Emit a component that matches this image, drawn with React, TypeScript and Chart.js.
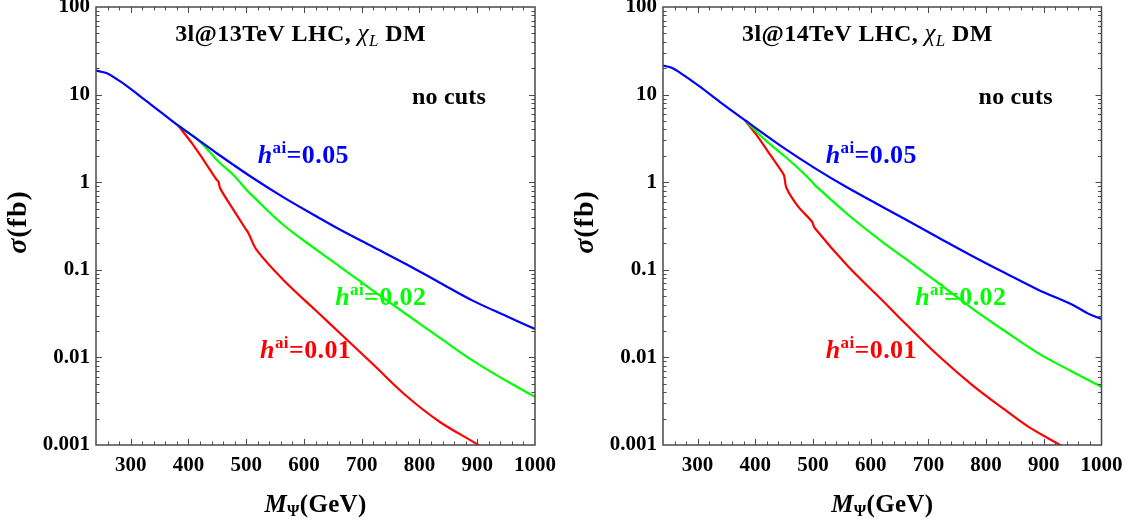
import React, { useEffect, useRef } from "react";
import { Chart, registerables } from "chart.js";

Chart.register(...registerables);

const FONT = '"Liberation Serif", "Times New Roman", serif';

// ---------------- axes ----------------
const xRange = [240, 1000];
const yRange = [0.001, 100];
const xTickValues = [300, 400, 500, 600, 700, 800, 900, 1000];
const xTickLabels = ["300", "400", "500", "600", "700", "800", "900", "1000"];
const yTickValues = [0.001, 0.01, 0.1, 1, 10, 100];
const yTickLabels = ["0.001", "0.01", "0.1", "1", "10", "100"];

// ---------------- 13 TeV ----------------
const massBlue13 = [240, 258, 276, 296, 316, 334, 351, 382, 420, 449, 507, 564, 622, 662, 720, 778, 836, 893, 951, 1000];
const sigmaBlue13 = [18.8, 17.6, 15.0, 12.2, 9.6, 7.8, 6.4, 4.45, 2.95, 2.14, 1.17, 0.676, 0.406, 0.288, 0.182, 0.115, 0.0708, 0.0442, 0.0295, 0.0211];

const massGreen13 = [382, 420, 452, 478, 501, 507, 564, 622, 662, 720, 778, 836, 893, 951, 1000];
const sigmaGreen13 = [4.45, 2.91, 1.72, 1.21, 0.81, 0.74, 0.327, 0.169, 0.109, 0.0575, 0.0309, 0.0166, 0.00912, 0.00537, 0.00355];

const massRed13 = [382, 406, 426, 449, 452, 455, 478, 498, 504, 518, 564, 622, 662, 720, 778, 836, 902, 912];
const sigmaRed13 = [4.45, 2.79, 1.8, 1.06, 1.02, 0.85, 0.484, 0.3, 0.262, 0.169, 0.0771, 0.0336, 0.019, 0.0083, 0.0036, 0.00182, 0.001, 0.00087];

// ---------------- 14 TeV ----------------
const massBlue14 = [240, 255, 275, 304, 339, 382, 446, 503, 561, 619, 659, 717, 775, 833, 890, 948, 977, 1000];
const sigmaBlue14 = [21.4, 20.2, 16.8, 12.3, 8.2, 5.1, 2.55, 1.45, 0.857, 0.529, 0.38, 0.234, 0.145, 0.0918, 0.0593, 0.0405, 0.0316, 0.0275];

const massGreen14 = [382, 417, 448, 474, 498, 503, 561, 619, 659, 717, 775, 833, 890, 948, 1000];
const sigmaGreen14 = [5.1, 3.04, 2.05, 1.45, 1.02, 0.93, 0.425, 0.211, 0.136, 0.0707, 0.0366, 0.0199, 0.0112, 0.00695, 0.00461];

const massRed14 = [382, 402, 422, 446, 450, 454, 474, 498, 503, 561, 619, 659, 717, 775, 833, 873, 928, 938];
const sigmaRed14 = [5.1, 3.47, 2.24, 1.32, 1.18, 0.857, 0.529, 0.356, 0.3, 0.109, 0.0456, 0.0247, 0.0105, 0.0049, 0.00251, 0.00162, 0.001, 0.0009];

const BLUE = "rgb(0,0,255)";
const GREEN = "rgb(0,255,0)";
const RED = "rgb(255,0,0)";

// ---------------- rich text ----------------
type Part = { t: string; w: string; s: number; dy?: number };
type Rich = { parts: Part[]; spacing: number };

function fontOf(p: Part) {
  const style = p.w.includes("i") ? "italic " : "";
  const weight = p.w.includes("b") ? "bold " : "";
  return `${style}${weight}${p.s}px ${FONT}`;
}
function setSpacing(ctx: any, sp: number) {
  if ("letterSpacing" in ctx) ctx.letterSpacing = `${sp}px`;
}
function richWidth(ctx: CanvasRenderingContext2D, r: Rich) {
  let w = 0;
  setSpacing(ctx, r.spacing);
  for (const p of r.parts) {
    ctx.font = fontOf(p);
    w += ctx.measureText(p.t).width;
  }
  setSpacing(ctx, 0);
  return w;
}
function drawRich(ctx: CanvasRenderingContext2D, r: Rich, x: number, y: number, color: string) {
  ctx.textBaseline = "alphabetic";
  ctx.textAlign = "left";
  ctx.fillStyle = color;
  setSpacing(ctx, r.spacing);
  let cx = x;
  for (const p of r.parts) {
    ctx.font = fontOf(p);
    ctx.fillText(p.t, cx, y + (p.dy || 0));
    cx += ctx.measureText(p.t).width;
  }
  setSpacing(ctx, 0);
}

const hLabel = (v: string): Rich => ({
  spacing: 0.4,
  parts: [
    { t: "h", w: "bi", s: 26 },
    { t: "ai", w: "b", s: 17, dy: -10 },
    { t: "=" + v, w: "b", s: 26 },
  ],
});
const titleRich = (energy: string): Rich => ({
  spacing: 0.4,
  parts: [
    { t: `3l@${energy}TeV LHC, `, w: "b", s: 24 },
    { t: "χ", w: "i", s: 25 },
    { t: "L", w: "i", s: 17, dy: 5 },
    { t: " DM", w: "b", s: 24 },
  ],
});
const noCuts: Rich = { spacing: 0.2, parts: [{ t: "no cuts", w: "b", s: 24 }] };
const xTitle: Rich = {
  spacing: 0.3,
  parts: [
    { t: "M", w: "bi", s: 25 },
    { t: "Ψ", w: "b", s: 16, dy: 4 },
    { t: "(GeV)", w: "b", s: 25 },
  ],
};
const yTitle: Rich = {
  spacing: 1,
  parts: [
    { t: "σ", w: "bi", s: 28 },
    { t: "(fb)", w: "b", s: 28 },
  ],
};

type Ann = { at: [number, number]; rich: Rich; color: string };

const annotations13: Ann[] = [
  { at: [377, 40.9], rich: titleRich("13"), color: "#000" },
  { at: [787, 7.83], rich: noCuts, color: "#000" },
  { at: [520, 1.66], rich: hLabel("0.05"), color: BLUE },
  { at: [654, 0.0394], rich: hLabel("0.02"), color: GREEN },
  { at: [524, 0.00996], rich: hLabel("0.01"), color: RED },
];
const annotations14: Ann[] = [
  { at: [377, 40.9], rich: titleRich("14"), color: "#000" },
  { at: [787, 7.83], rich: noCuts, color: "#000" },
  { at: [522, 1.66], rich: hLabel("0.05"), color: BLUE },
  { at: [677, 0.0394], rich: hLabel("0.02"), color: GREEN },
  { at: [522, 0.00996], rich: hLabel("0.01"), color: RED },
];

// ---------------- plugins ----------------
const framePlugin = {
  id: "frame",
  afterDatasetsDraw(chart: any) {
    const { ctx, chartArea: a, scales } = chart;
    const xs = scales.x;
    const ys = scales.y;
    ctx.save();
    ctx.strokeStyle = "#4a4a4a";
    ctx.lineWidth = 1;
    const major = 6;
    const minor = 3.5;
    ctx.beginPath();
    for (let v = xRange[0] + 20; v < xRange[1]; v += 20) {
      const px = Math.round(xs.getPixelForValue(v)) + 0.5;
      const L = v % 100 === 0 ? major : minor;
      ctx.moveTo(px, a.bottom);
      ctx.lineTo(px, a.bottom - L);
      ctx.moveTo(px, a.top);
      ctx.lineTo(px, a.top + L);
    }
    for (let e = -3; e <= 1; e++) {
      for (let k = 1; k <= 9; k++) {
        const v = k * Math.pow(10, e);
        if (e === -3 && k === 1) continue;
        const py = Math.round(ys.getPixelForValue(v)) + 0.5;
        const L = k === 1 ? major : minor;
        ctx.moveTo(a.left, py);
        ctx.lineTo(a.left + L, py);
        ctx.moveTo(a.right, py);
        ctx.lineTo(a.right - L, py);
      }
    }
    ctx.stroke();
    ctx.lineWidth = 1.5;
    ctx.strokeRect(a.left, a.top, a.right - a.left, a.bottom - a.top);
    ctx.restore();
  },
};

const textPlugin = {
  id: "texts",
  afterDraw(chart: any) {
    const { ctx, chartArea: a, scales } = chart;
    const anns: Ann[] = chart.options.plugins.texts.items;
    ctx.save();
    for (const an of anns) {
      const x = scales.x.getPixelForValue(an.at[0]);
      const y = scales.y.getPixelForValue(an.at[1]);
      drawRich(ctx, an.rich, x, y, an.color);
    }
    // x axis title
    const wx = richWidth(ctx, xTitle);
    drawRich(ctx, xTitle, (a.left + a.right) / 2 - wx / 2, 512, "#000");
    // y axis title (rotated)
    const wy = richWidth(ctx, yTitle);
    ctx.translate(a.left - 70, (a.top + a.bottom) / 2 - 4);
    ctx.rotate(-Math.PI / 2);
    drawRich(ctx, yTitle, -wy / 2, 0, "#000");
    ctx.restore();
  },
};

function series(mass: number[], sigma: number[]) {
  return mass.map((m, i) => ({ x: m, y: sigma[i] }));
}

type PanelProps = {
  left: number;
  width: number;
  yAxisWidth: number;
  padRight: number;
  blue: [number[], number[]];
  green: [number[], number[]];
  red: [number[], number[]];
  anns: Ann[];
};

function Panel(props: PanelProps) {
  const ref = useRef<HTMLCanvasElement | null>(null);
  useEffect(() => {
    if (!ref.current) return;
    const ds = (d: [number[], number[]], color: string) => ({
      data: series(d[0], d[1]),
      borderColor: color,
      backgroundColor: color,
      borderWidth: 2.2,
      pointRadius: 0,
      fill: false,
      tension: 0.35,
    });
    const chart = new Chart(ref.current, {
      type: "line",
      data: {
        datasets: [ds(props.blue, BLUE), ds(props.green, GREEN), ds(props.red, RED)],
      },
      options: {
        animation: false,
        responsive: false,
        devicePixelRatio: 1,
        events: [],
        layout: { padding: { left: 0, right: props.padRight, top: 7, bottom: 0 } },
        plugins: {
          legend: { display: false },
          tooltip: { enabled: false },
          title: { display: false },
          // @ts-ignore
          texts: { items: props.anns },
        },
        scales: {
          x: {
            type: "linear",
            min: xRange[0],
            max: xRange[1],
            grid: { display: false, drawTicks: false },
            border: { display: false },
            afterBuildTicks: (s: any) => {
              s.ticks = xTickValues.map((v) => ({ value: v }));
            },
            afterFit: (s: any) => {
              s.height = 78;
              s.paddingLeft = 0;
              s.paddingRight = 0;
            },
            ticks: {
              autoSkip: false,
              maxRotation: 0,
              padding: 8,
              color: "#000",
              font: { family: FONT, size: 21, weight: "bold" },
              callback: (_v: any, i: number) => xTickLabels[i],
            },
          },
          y: {
            type: "logarithmic",
            min: yRange[0],
            max: yRange[1],
            grid: { display: false, drawTicks: false },
            border: { display: false },
            afterBuildTicks: (s: any) => {
              s.ticks = yTickValues.map((v) => ({ value: v }));
            },
            afterFit: (s: any) => {
              s.width = props.yAxisWidth;
              s.paddingTop = 0;
              s.paddingBottom = 0;
            },
            ticks: {
              autoSkip: false,
              padding: 6,
              color: "#000",
              font: { family: FONT, size: 21, weight: "bold" },
              callback: (_v: any, i: number) => yTickLabels[i],
            },
          },
        },
      },
      plugins: [framePlugin, textPlugin],
    } as any);
    return () => chart.destroy();
  }, []);
  return (
    <canvas
      ref={ref}
      width={props.width}
      height={523}
      style={{ position: "absolute", left: props.left, top: 0, width: props.width, height: 523 }}
    />
  );
}

export default function App() {
  return (
    <div style={{ position: "absolute", left: 0, top: 0, width: 1131, height: 523, background: "#fff" }}>
      <Panel
        left={0}
        width={566}
        yAxisWidth={96}
        padRight={31}
        blue={[massBlue13, sigmaBlue13]}
        green={[massGreen13, sigmaGreen13]}
        red={[massRed13, sigmaRed13]}
        anns={annotations13}
      />
      <Panel
        left={566}
        width={565}
        yAxisWidth={97}
        padRight={29.5}
        blue={[massBlue14, sigmaBlue14]}
        green={[massGreen14, sigmaGreen14]}
        red={[massRed14, sigmaRed14]}
        anns={annotations14}
      />
    </div>
  );
}
